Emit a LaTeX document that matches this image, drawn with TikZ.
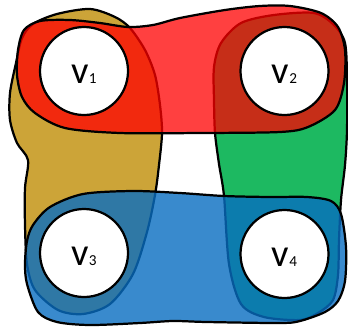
\documentclass[tikz,border=0pt]{standalone}
\usepackage{fontspec}
\setmainfont{Carlito}
\definecolor{edgered}{RGB}{255,0,0}
\definecolor{edgegold}{RGB}{204,164,56}
\definecolor{edgegreen}{RGB}{29,185,97}
\definecolor{edgeblue}{RGB}{8,109,193}
\def\vname#1{\raisebox{-2.5pt}[\height][0pt]{{\fontsize{33}{36}\selectfont v}{\fontsize{13}{15}\selectfont #1}}}

\begin{document}
\begin{tikzpicture}[x=0.03cm,y=-0.03cm,line width=1.9pt,
	vertex/.style={circle,draw=black,fill=white,minimum size=2.64cm,inner sep=0pt}]
	\useasboundingbox (0,0) rectangle (348,328);
	%%%%% START %%%%%
	% left edge {v1,v3}
	\draw[fill=edgegold] plot[smooth cycle] coordinates {
		(57,14) (90,9) (115,17) (130,28) (145,50) (155,75) (160,105) (162,133)
		(159,165) (155,195) (147,232) (133,274) (110,304) (83,314) (58,310)
		(35,290) (27,264) (25,225) (25,188) (28,160) (17,143) (10,120) (10,93)
		(16,63) (22,38) (33,24)};
	
	% right edge {v2,v4}
	\draw[fill=edgegreen] plot[smooth cycle] coordinates {
		(241,23) (274,15) (314,13) (334,25) (345,43) (347,80) (347,130)
		(345,165) (341,200) (339,240) (338,275) (333,300) (318,313) (300,320)
		(264,317) (241,304) (229,264) (224,196) (219,164) (215,133) (214,100)
		(214,67) (221,43)};
	
	% top edge {v1,v2}
	\draw[fill=edgered, fill opacity=0.75] plot[smooth cycle] coordinates {
		(40,21) (70,20) (100,23) (128,27) (153,25) (180,18) (225,10) (260,6)
		(290,6) (321,13) (338,27) (345,50) (344,83) (335,110) (308,127)
		(280,132) (200,133) (120,133) (65,128) (35,113) (22,97) (17,75)
		(18,50) (24,30)};
	
	% bottom edge {v3,v4}
	\draw[fill=edgeblue, fill opacity=0.8] plot[smooth cycle] coordinates {
		(50,207) (83,194) (133,191) (180,193) (224,196) (270,197) (307,197)
		(331,201) (341,214) (346,247) (345,281) (338,301) (325,312) (300,321)
		(280,323) (207,322) (173,321) (140,323) (90,325) (57,322) (38,312)
		(27,284) (25,264) (27,241) (33,225)};
	
	% vertices
	\node[vertex] (v1) at (84,71) {\vname{1}};
	\node[vertex] (v2) at (284.5,71) {\vname{2}};
	\node[vertex] (v3) at (84,253) {\vname{3}};
	\node[vertex] (v4) at (284.5,254) {\vname{4}};
	%%%%% END %%%%%
\end{tikzpicture}
\end{document}
